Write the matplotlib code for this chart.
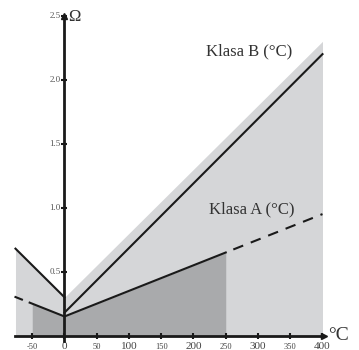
import numpy as np
import matplotlib
matplotlib.use("Agg")
import matplotlib.pyplot as plt

# tolerancje Pt100, klasa A i B (odczyt z wykresu)
env_t = [-76, 0, 400]
env_b = [0.68, 0.30, 2.30]

b_left_t = [-76, 0]
b_left = [0.68, 0.30]
b_right_t = [0, 400]
b_right = [0.18, 2.20]

a_t = [-50, 0, 250]
a_val = [0.25, 0.15, 0.65]
a_line_t = [-54, 0, 250]
a_line = [0.258, 0.15, 0.65]
a_dash_t = [250, 400]
a_dash = [0.65, 0.95]
a_left_t = [-76, -66]
a_left = [0.302, 0.282]

x_ticks = [-50, 0, 50, 100, 150, 200, 250, 300, 350, 400]
y_ticks = [0.5, 1.0, 1.5, 2.0, 2.5]

plt.rcParams['font.family'] = ['Liberation Serif', 'DejaVu Serif']

fig = plt.figure(figsize=(3.59, 3.5), dpi=100)
ax = fig.add_axes([0, 0, 1, 1])
ax.set_xlim(-100, 456.6)
ax.set_ylim(-0.112, 2.623)
ax.axis('off')

light = '#d5d6d8'
dark = '#a9aaac'

ax.fill_between(env_t, 0, env_b, color=light, lw=0, zorder=1)
ax.fill_between(a_t, 0, a_val, color=dark, lw=0, zorder=2)

ax.plot(b_left_t, b_left, color='#1a1a1a', lw=1.5, zorder=4)
ax.plot(b_right_t, b_right, color='#1a1a1a', lw=1.5, zorder=4)
ax.plot(a_line_t, a_line, color='#1a1a1a', lw=1.5, zorder=4)
ax.plot(a_dash_t, a_dash, color='#1a1a1a', lw=1.5, zorder=4,
        linestyle=(5.1, (5.1, 3.9)))
ax.plot(a_left_t, a_left, color='#1a1a1a', lw=1.5, zorder=4)

# osie
ax.plot([-76, 402], [0, 0], color='#1a1a1a', lw=2, zorder=5)
ax.plot([0, 0], [-0.04, 2.5], color='#1a1a1a', lw=2, zorder=5)
ax.plot([403], [0], marker='>', ms=4, color='#1a1a1a', zorder=6)
ax.plot([0], [2.5], marker='^', ms=4, color='#1a1a1a', zorder=6)

ax.plot(x_ticks, [0] * len(x_ticks), ls='none', marker='|', ms=5,
        mew=1.5, color='#1a1a1a', zorder=6)
ax.plot([0] * len(y_ticks), y_ticks, ls='none', marker='_', ms=5,
        mew=1.5, color='#1a1a1a', zorder=6)

for t in x_ticks:
    big = t % 100 == 0
    ax.text(t, -0.085, str(t), ha='center', va='center',
            fontsize=8 if big else 6, color='#444444')
for v in y_ticks:
    ax.text(-6, v, f'{v:.1f}', ha='right', va='center',
            fontsize=6.5, color='#555555')

ax.text(5, 2.49, 'Ω', ha='left', va='center', fontsize=12, color='#333333')
ax.text(409, 0.0, '°C', ha='left', va='center', fontsize=14, color='#333333')

ax.text(287, 2.22, 'Klasa B (°C)', ha='center', va='center',
        fontsize=12, color='#333333')
ax.text(290, 0.985, 'Klasa A (°C)', ha='center', va='center',
        fontsize=12, color='#333333')

fig.savefig('out.png', dpi=100)
